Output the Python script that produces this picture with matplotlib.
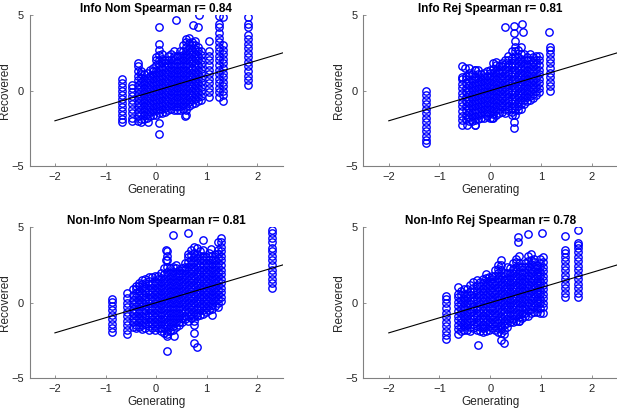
import matplotlib
matplotlib.use("Agg")
from matplotlib import pyplot as plt

plt.rcParams['font.family'] = ['Liberation Sans', 'DejaVu Sans']

# ---- Info Nom: generating value of each column, recovered values in it
info_nom_gen = [-0.68, -0.47, -0.36, -0.30, -0.24, -0.18, -0.12, -0.06, 0.00, 0.05,
                0.11, 0.17, 0.23, 0.29, 0.35, 0.41, 0.47, 0.53, 0.59, 0.65,
                0.71, 0.77, 0.83, 0.89, 1.05, 1.25, 1.32, 1.82]
info_nom_rec = [
    [-2.1, -1.9, -1.6, -1.35, -1.1, -0.8, -0.55, -0.3, 0.0, 0.25, 0.5, 0.8],
    [-2.0, -1.8, -1.5, -1.2, -0.9, -0.6, -0.35, -0.1, 0.15, 0.35],
    [-2.0, -1.7, -1.4, -1.1, -0.8, -0.5, -0.2, 0.1, 0.4, 0.7, 1.0, 1.3, 1.6, 1.8],
    [-2.1, -1.85, -1.55, -1.25, -0.95, -0.65, -0.35, -0.05, 0.25, 0.55, 0.85, 1.1, 1.3],
    [-1.9, -1.6, -1.3, -1.0, -0.7, -0.4, -0.1, 0.2, 0.5, 0.8, 1.1],
    [-1.8, -1.55, -1.25, -0.95, -0.65, -0.35, -0.05, 0.25, 0.55, 0.85, 1.2],
    [-1.7, -1.4, -1.1, -0.8, -0.5, -0.2, 0.1, 0.4, 0.7, 1.0, 1.4],
    [-1.6, -1.35, -1.05, -0.75, -0.45, -0.15, 0.15, 0.45, 0.75, 1.05, 1.3, 1.5],
    [-1.6, -1.3, -1.0, -0.7, -0.4, -0.1, 0.2, 0.5, 0.8, 1.1, 1.4, 1.7, 2.0, 2.2],
    [-1.5, -1.25, -0.95, -0.65, -0.35, -0.05, 0.25, 0.55, 0.85, 1.15, 1.45, 1.75, 2.05, 2.35, 2.7, 3.1],
    [-1.5, -1.2, -0.9, -0.6, -0.3, 0.0, 0.3, 0.6, 0.9, 1.2, 1.5, 1.8, 2.1, 2.4],
    [-1.4, -1.15, -0.85, -0.55, -0.25, 0.05, 0.35, 0.65, 0.95, 1.25, 1.55, 1.8, 2.0],
    [-1.3, -1.0, -0.7, -0.4, -0.1, 0.2, 0.5, 0.8, 1.1, 1.4, 1.7, 2.0, 2.3],
    [-1.2, -0.95, -0.65, -0.35, -0.05, 0.25, 0.55, 0.85, 1.15, 1.45, 1.75, 2.05, 2.4],
    [-1.3, -1.0, -0.7, -0.4, -0.1, 0.2, 0.5, 0.8, 1.1, 1.4, 1.7, 2.0, 2.3, 2.6],
    [-1.3, -1.05, -0.75, -0.45, -0.15, 0.15, 0.45, 0.75, 1.05, 1.35, 1.65, 1.95, 2.3],
    [-1.3, -1.0, -0.7, -0.4, -0.1, 0.2, 0.5, 0.8, 1.1, 1.4, 1.7, 2.0, 2.3, 2.6],
    [-1.2, -0.95, -0.65, -0.35, -0.05, 0.25, 0.55, 0.85, 1.15, 1.45, 1.75, 2.05, 2.35, 2.65, 3.0],
    [-1.6, -1.3, -1.0, -0.7, -0.4, -0.1, 0.2, 0.5, 0.8, 1.1, 1.4, 1.7, 2.0, 2.3, 2.6, 2.9, 3.2, 3.4],
    [-1.0, -0.75, -0.45, -0.15, 0.15, 0.45, 0.75, 1.05, 1.35, 1.65, 1.95, 2.25, 2.55, 2.85, 3.15, 3.5],
    [-0.9, -0.6, -0.3, 0.0, 0.3, 0.6, 0.9, 1.2, 1.5, 1.8, 2.1, 2.4, 2.7, 3.0, 3.2],
    [-0.8, -0.55, -0.25, 0.05, 0.35, 0.65, 0.95, 1.25, 1.55, 1.85, 2.15, 2.45, 2.75, 3.05, 3.3],
    [-0.7, -0.4, -0.1, 0.2, 0.5, 0.8, 1.1, 1.4, 1.7, 2.0, 2.3, 2.6, 2.9],
    [-0.6, -0.35, -0.05, 0.25, 0.55, 0.85, 1.15, 1.45, 1.75, 2.05, 2.35, 2.6],
    [-0.4, -0.1, 0.2, 0.5, 0.8, 1.1, 1.4, 1.7, 2.0, 2.3, 2.6, 3.3],
    [-0.4, -0.1, 0.2, 0.5, 0.8, 1.1, 1.4, 1.7, 2.0, 2.3, 2.6, 2.9, 3.2, 3.5, 3.8, 4.2, 4.4, 4.95],
    [-0.7, -0.3, 0.0, 0.3, 0.6, 0.9, 1.2, 1.5, 1.8, 2.1, 2.4, 2.7, 3.0, 4.9],
    [0.4, 0.7, 1.0, 1.3, 1.6, 1.9, 2.2, 2.5, 2.8, 3.1, 3.4, 3.7, 4.2, 4.4, 4.85],
]
info_nom_out_x = [0.05, 0.05, 0.05, 0.40, 0.72, 0.84, 0.82, -0.17, 0.57]
info_nom_out_y = [4.2, -2.15, -2.9, 4.7, 4.35, 5.0, 4.2, -2.05, -1.65]

# ---- Info Rej
info_rej_gen = [-1.27, -0.55, -0.48, -0.42, -0.36, -0.30, -0.24, -0.18, -0.12, -0.06,
                0.00, 0.06, 0.12, 0.18, 0.24, 0.30, 0.36, 0.42, 0.48, 0.54,
                0.60, 0.66, 0.72, 0.78, 0.84, 0.90, 0.96, 1.17]
info_rej_rec = [
    [0.0, -0.3, -0.6, -0.9, -1.2, -1.5, -1.8, -2.1, -2.4, -2.7, -3.0, -3.3, -3.5],
    [-2.25, -1.95, -1.65, -1.35, -1.05, -0.75, -0.45, -0.15, 0.15, 0.45, 0.75, 0.9, 1.6],
    [-1.9, -1.6, -1.3, -1.0, -0.7, -0.4, -0.1, 0.2, 0.5, 0.8, 1.0],
    [-2.0, -1.75, -1.45, -1.15, -0.85, -0.55, -0.25, 0.05, 0.35, 0.65, 0.95, 1.2, 1.5],
    [-2.0, -1.7, -1.4, -1.1, -0.8, -0.5, -0.2, 0.1, 0.4, 0.7, 1.1],
    [-2.25, -1.95, -1.65, -1.35, -1.05, -0.75, -0.45, -0.15, 0.15, 0.45, 0.75, 1.0, 1.4],
    [-1.9, -1.6, -1.3, -1.0, -0.7, -0.4, -0.1, 0.2, 0.5, 0.8, 1.1, 1.4],
    [-1.8, -1.55, -1.25, -0.95, -0.65, -0.35, -0.05, 0.25, 0.55, 0.85, 1.1],
    [-1.8, -1.5, -1.2, -0.9, -0.6, -0.3, 0.0, 0.3, 0.6, 0.9, 1.2],
    [-1.7, -1.45, -1.15, -0.85, -0.55, -0.25, 0.05, 0.35, 0.65, 0.95, 1.3],
    [-1.8, -1.5, -1.2, -0.9, -0.6, -0.3, 0.0, 0.3, 0.6, 0.9, 1.2, 1.4],
    [-1.8, -1.55, -1.25, -0.95, -0.65, -0.35, -0.05, 0.25, 0.55, 0.85, 1.15, 1.45, 1.8],
    [-1.6, -1.3, -1.0, -0.7, -0.4, -0.1, 0.2, 0.5, 0.8, 1.1, 1.4, 1.7, 1.9],
    [-1.5, -1.25, -0.95, -0.65, -0.35, -0.05, 0.25, 0.55, 0.85, 1.15, 1.4, 1.6],
    [-1.4, -1.1, -0.8, -0.5, -0.2, 0.1, 0.4, 0.7, 1.0, 1.3, 1.6, 1.8],
    [-1.5, -1.25, -0.95, -0.65, -0.35, -0.05, 0.25, 0.55, 0.85, 1.15, 1.45, 1.75, 2.0],
    [-1.3, -1.0, -0.7, -0.4, -0.1, 0.2, 0.5, 0.8, 1.1, 1.4, 1.7, 2.0, 2.3],
    [-1.6, -1.4, -1.15, -0.85, -0.55, -0.25, 0.05, 0.35, 0.65, 0.95, 1.25, 1.55, 1.85, 2.15, 2.6],
    [-1.6, -1.3, -1.0, -0.7, -0.4, -0.1, 0.2, 0.5, 0.8, 1.1, 1.4, 1.7, 2.0, 2.3, 2.6, 2.9, 3.3],
    [-1.3, -1.05, -0.75, -0.45, -0.15, 0.15, 0.45, 0.75, 1.05, 1.35, 1.65, 1.95, 2.25, 2.7],
    [-1.2, -0.9, -0.6, -0.3, 0.0, 0.3, 0.6, 0.9, 1.2, 1.5, 1.8, 2.1, 2.4, 2.9],
    [-0.9, -0.65, -0.35, -0.05, 0.25, 0.55, 0.85, 1.15, 1.45, 1.75, 2.05, 2.4],
    [-0.7, -0.4, -0.1, 0.2, 0.5, 0.8, 1.1, 1.4, 1.7, 2.0, 2.2],
    [-0.6, -0.35, -0.05, 0.25, 0.55, 0.85, 1.15, 1.45, 1.75, 2.05, 2.4],
    [-0.5, -0.2, 0.1, 0.4, 0.7, 1.0, 1.3, 1.6, 1.9, 2.2],
    [-0.3, -0.05, 0.25, 0.55, 0.85, 1.15, 1.45, 1.75, 2.05, 2.3],
    [-0.1, 0.2, 0.5, 0.8, 1.1, 1.4, 1.7, 2.0, 2.3],
    [0.0, 0.3, 0.6, 0.9, 1.2, 1.5, 1.8, 2.1, 2.4, 2.7, 2.9],
]
info_rej_out_x = [0.29, 0.46, 0.46, 0.63, 0.65, 1.15, -0.50, -0.30, 0.03, -0.45, -0.30, 0.46, 0.46]
info_rej_out_y = [4.2, 4.3, 3.8, 4.4, 3.9, 3.9, 1.5, 1.4, -1.8, -2.3, -2.3, -2.05, -2.45]

# ---- Non-Info Nom
noninfo_nom_gen = [-0.88, -0.57, -0.45, -0.39, -0.33, -0.27, -0.21, -0.15, -0.09, -0.03,
                   0.03, 0.09, 0.15, 0.21, 0.27, 0.33, 0.39, 0.45, 0.51, 0.57,
                   0.63, 0.69, 0.75, 0.81, 0.87, 0.93, 0.99, 1.05, 1.11, 1.17,
                   1.23, 1.29, 2.30]
noninfo_nom_rec = [
    [-1.95, -1.7, -1.4, -1.1, -0.8, -0.5, -0.2, 0.05, 0.25],
    [-2.1, -1.8, -1.5, -1.2, -0.9, -0.6, -0.3, 0.0, 0.3, 0.65],
    [-1.6, -1.3, -1.0, -0.7, -0.4, -0.1, 0.2, 0.5, 0.9],
    [-1.7, -1.45, -1.15, -0.85, -0.55, -0.25, 0.05, 0.35, 0.65, 0.9, 1.1],
    [-1.6, -1.3, -1.0, -0.7, -0.4, -0.1, 0.2, 0.5, 0.8, 1.1, 1.3],
    [-1.75, -1.45, -1.15, -0.85, -0.55, -0.25, 0.05, 0.35, 0.65, 0.95, 1.25, 1.5],
    [-1.7, -1.4, -1.1, -0.8, -0.5, -0.2, 0.1, 0.4, 0.7, 1.0, 1.3, 1.6],
    [-1.8, -1.55, -1.25, -0.95, -0.65, -0.35, -0.05, 0.25, 0.55, 0.85, 1.15, 1.45, 1.7],
    [-1.7, -1.4, -1.1, -0.8, -0.5, -0.2, 0.1, 0.4, 0.7, 1.0, 1.3, 1.7],
    [-1.8, -1.55, -1.25, -0.95, -0.65, -0.35, -0.05, 0.25, 0.55, 0.85, 1.15, 1.45, 1.8],
    [-1.7, -1.4, -1.1, -0.8, -0.5, -0.2, 0.1, 0.4, 0.7, 1.0, 1.3, 1.6, 1.8],
    [-1.9, -1.65, -1.35, -1.05, -0.75, -0.45, -0.15, 0.15, 0.45, 0.75, 1.05, 1.35, 1.65, 2.0],
    [-2.0, -1.7, -1.4, -1.1, -0.8, -0.5, -0.2, 0.1, 0.4, 0.7, 1.0, 1.3, 1.6, 1.9, 2.3],
    [-2.1, -1.85, -1.55, -1.25, -0.95, -0.65, -0.35, -0.05, 0.25, 0.55, 0.85, 1.15, 1.45, 1.75, 2.05, 2.4, 2.8, 3.1, 3.4],
    [-1.9, -1.6, -1.3, -1.0, -0.7, -0.4, -0.1, 0.2, 0.5, 0.8, 1.1, 1.4, 1.7, 2.0, 2.3],
    [-1.8, -1.55, -1.25, -0.95, -0.65, -0.35, -0.05, 0.25, 0.55, 0.85, 1.15, 1.45, 1.75, 2.05, 2.4],
    [-1.6, -1.3, -1.0, -0.7, -0.4, -0.1, 0.2, 0.5, 0.8, 1.1, 1.4, 1.7, 2.0, 2.3, 2.5],
    [-1.5, -1.25, -0.95, -0.65, -0.35, -0.05, 0.25, 0.55, 0.85, 1.15, 1.45, 1.75, 2.0, 2.2],
    [-1.3, -1.0, -0.7, -0.4, -0.1, 0.2, 0.5, 0.8, 1.1, 1.4, 1.7, 2.0, 2.3],
    [-1.1, -0.85, -0.55, -0.25, 0.05, 0.35, 0.65, 0.95, 1.25, 1.55, 1.85, 2.15, 2.4, 2.6],
    [-1.2, -0.9, -0.6, -0.3, 0.0, 0.3, 0.6, 0.9, 1.2, 1.5, 1.8, 2.1, 2.4, 2.7, 3.0, 3.2],
    [-1.0, -0.75, -0.45, -0.15, 0.15, 0.45, 0.75, 1.05, 1.35, 1.65, 1.95, 2.25, 2.55, 2.85, 3.15, 3.5],
    [-1.2, -0.9, -0.6, -0.3, 0.0, 0.3, 0.6, 0.9, 1.2, 1.5, 1.8, 2.1, 2.4, 2.7, 3.0, 3.3, 3.7],
    [-0.9, -0.65, -0.35, -0.05, 0.25, 0.55, 0.85, 1.15, 1.45, 1.75, 2.05, 2.35, 2.65, 2.95, 3.25, 3.6],
    [-0.8, -0.5, -0.2, 0.1, 0.4, 0.7, 1.0, 1.3, 1.6, 1.9, 2.2, 2.5, 2.8, 3.1, 3.4],
    [-0.75, -0.5, -0.2, 0.1, 0.4, 0.7, 1.0, 1.3, 1.6, 1.9, 2.2, 2.5, 2.8, 3.1, 3.5],
    [-0.6, -0.35, -0.05, 0.25, 0.55, 0.85, 1.15, 1.45, 1.75, 2.05, 2.35, 2.65, 3.0],
    [-0.5, -0.2, 0.1, 0.4, 0.7, 1.0, 1.3, 1.6, 1.9, 2.2, 2.5, 2.8, 3.1, 3.3],
    [-0.4, -0.15, 0.15, 0.45, 0.75, 1.05, 1.35, 1.65, 1.95, 2.25, 2.55, 2.85, 3.1],
    [-0.2, 0.1, 0.4, 0.7, 1.0, 1.3, 1.6, 1.9, 2.2, 2.5, 2.8, 3.2],
    [-0.3, -0.05, 0.25, 0.55, 0.85, 1.15, 1.45, 1.75, 2.05, 2.35, 2.65, 2.95, 3.25, 3.5],
    [0.1, 0.4, 0.7, 1.0, 1.3, 1.6, 1.9, 2.2, 2.5, 2.8, 3.1, 3.4, 3.7, 4.0, 4.3],
    [1.0, 1.3, 1.6, 1.9, 2.2, 2.5, 2.8, 3.1, 3.4, 3.6, 4.0, 4.3, 4.6, 4.85],
]
noninfo_nom_out_x = [0.20, 0.20, 0.22, 0.22, 0.33, 0.35, 0.63, 0.75, 0.75, 0.75, 0.80, 0.93, 1.08, 1.10, 1.23]
noninfo_nom_out_y = [2.8, 3.5, -2.2, -3.2, 4.5, -2.2, 4.65, -1.5, -2.0, -2.65, -2.95, 4.15, 3.55, -0.8, 4.0]

# ---- Non-Info Rej
noninfo_rej_gen = [-0.88, -0.63, -0.57, -0.51, -0.45, -0.39, -0.33, -0.27, -0.21, -0.15,
                   -0.09, -0.03, 0.03, 0.09, 0.15, 0.21, 0.27, 0.33, 0.39, 0.45,
                   0.51, 0.57, 0.63, 0.69, 0.75, 0.81, 0.87, 0.93, 0.99, 1.05,
                   1.47, 1.73]
noninfo_rej_rec = [
    [-2.4, -2.15, -1.85, -1.55, -1.25, -0.95, -0.65, -0.35, -0.05, 0.25, 0.45],
    [-2.05, -1.75, -1.45, -1.15, -0.85, -0.55, -0.25, 0.05, 0.35, 0.6, 1.05],
    [-1.9, -1.6, -1.3, -1.0, -0.7, -0.4, -0.1, 0.2, 0.5, 0.8],
    [-1.8, -1.55, -1.25, -0.95, -0.65, -0.35, -0.05, 0.25, 0.55, 0.9],
    [-1.8, -1.5, -1.2, -0.9, -0.6, -0.3, 0.0, 0.3, 0.6, 0.9],
    [-1.85, -1.6, -1.3, -1.0, -0.7, -0.4, -0.1, 0.2, 0.5, 0.8, 1.2],
    [-1.7, -1.4, -1.1, -0.8, -0.5, -0.2, 0.1, 0.4, 0.7, 1.0, 1.4],
    [-1.8, -1.55, -1.25, -0.95, -0.65, -0.35, -0.05, 0.25, 0.55, 0.85, 1.15, 1.5],
    [-1.9, -1.6, -1.3, -1.0, -0.7, -0.4, -0.1, 0.2, 0.5, 0.8, 1.1, 1.4],
    [-1.95, -1.7, -1.4, -1.1, -0.8, -0.5, -0.2, 0.1, 0.4, 0.7, 1.0, 1.3, 1.6],
    [-1.9, -1.6, -1.3, -1.0, -0.7, -0.4, -0.1, 0.2, 0.5, 0.8, 1.1, 1.4, 1.65, 1.9],
    [-1.8, -1.55, -1.25, -0.95, -0.65, -0.35, -0.05, 0.25, 0.55, 0.85, 1.15, 1.45, 1.7],
    [-1.7, -1.4, -1.1, -0.8, -0.5, -0.2, 0.1, 0.4, 0.7, 1.0, 1.3, 1.6, 1.8],
    [-1.8, -1.55, -1.25, -0.95, -0.65, -0.35, -0.05, 0.25, 0.55, 0.85, 1.15, 1.45, 1.75, 2.2],
    [-1.95, -1.65, -1.35, -1.05, -0.75, -0.45, -0.15, 0.15, 0.45, 0.75, 1.05, 1.35, 1.65, 1.95, 2.25, 2.5],
    [-2.0, -1.75, -1.45, -1.15, -0.85, -0.55, -0.25, 0.05, 0.35, 0.65, 0.95, 1.25, 1.55, 1.85, 2.15, 2.5, 2.8],
    [-2.1, -1.8, -1.5, -1.2, -0.9, -0.6, -0.3, 0.0, 0.3, 0.6, 0.9, 1.2, 1.5, 1.8, 2.0],
    [-1.6, -1.35, -1.05, -0.75, -0.45, -0.15, 0.15, 0.45, 0.75, 1.05, 1.35, 1.65, 1.95, 2.4],
    [-1.3, -1.0, -0.7, -0.4, -0.1, 0.2, 0.5, 0.8, 1.1, 1.4, 1.7, 2.0, 2.3],
    [-1.3, -1.05, -0.75, -0.45, -0.15, 0.15, 0.45, 0.75, 1.05, 1.35, 1.65, 1.95, 2.25, 2.6],
    [-1.2, -0.9, -0.6, -0.3, 0.0, 0.3, 0.6, 0.9, 1.2, 1.5, 1.8, 2.1, 2.4, 2.7, 2.9],
    [-1.2, -0.95, -0.65, -0.35, -0.05, 0.25, 0.55, 0.85, 1.15, 1.45, 1.75, 2.05, 2.35, 2.65, 3.1],
    [-1.0, -0.7, -0.4, -0.1, 0.2, 0.5, 0.8, 1.1, 1.4, 1.7, 2.0, 2.4],
    [-0.9, -0.65, -0.35, -0.05, 0.25, 0.55, 0.85, 1.15, 1.45, 1.75, 2.05, 2.35, 2.6],
    [-0.85, -0.55, -0.25, 0.05, 0.35, 0.65, 0.95, 1.25, 1.55, 1.85, 2.15, 2.45, 2.75, 3.1],
    [-0.7, -0.45, -0.15, 0.15, 0.45, 0.75, 1.05, 1.35, 1.65, 1.95, 2.25, 2.55, 2.85, 3.2],
    [-0.6, -0.3, 0.0, 0.3, 0.6, 0.9, 1.2, 1.5, 1.8, 2.1, 2.4, 2.7, 2.9],
    [-0.6, -0.35, -0.05, 0.25, 0.55, 0.85, 1.15, 1.45, 1.75, 2.05, 2.3, 2.5],
    [-0.65, -0.35, -0.05, 0.25, 0.55, 0.85, 1.15, 1.45, 1.75, 2.05, 2.35, 2.65, 2.9],
    [-0.3, 0.0, 0.3, 0.6, 0.9, 1.2, 1.5, 1.8, 2.1, 2.4, 2.7, 3.0],
    [0.35, 0.65, 0.95, 1.25, 1.55, 1.85, 2.15, 2.45, 2.75, 3.05, 3.3, 3.5, 4.45],
    [0.35, 0.65, 0.95, 1.25, 1.55, 1.85, 2.15, 2.45, 2.75, 3.05, 3.35, 3.6, 3.8, 3.95, 4.85],
]
noninfo_rej_out_x = [-0.25, 0.22, 0.27, 0.55, 0.55, 0.57, 0.75, 1.02, 1.05]
noninfo_rej_out_y = [-2.8, -2.5, -2.65, 4.35, 4.0, -1.2, 4.55, 4.6, -0.65]

titles = ['Info Nom Spearman r= 0.84', 'Info Rej Spearman r= 0.81',
          'Non-Info Nom Spearman r= 0.81', 'Non-Info Rej Spearman r= 0.78']
ident_x = [-2, 2.5]

panels = [
    (info_nom_gen, info_nom_rec, info_nom_out_x, info_nom_out_y),
    (info_rej_gen, info_rej_rec, info_rej_out_x, info_rej_out_y),
    (noninfo_nom_gen, noninfo_nom_rec, noninfo_nom_out_x, noninfo_nom_out_y),
    (noninfo_rej_gen, noninfo_rej_rec, noninfo_rej_out_x, noninfo_rej_out_y),
]

# axes boxes in figure fractions (left, bottom, width, height)
boxes = [
    [0.048, 0.596, 0.410, 0.367],
    [0.589, 0.596, 0.411, 0.367],
    [0.048, 0.080, 0.410, 0.367],
    [0.589, 0.080, 0.411, 0.367],
]

fig = plt.figure(figsize=(6.17, 4.11), dpi=100)
grey = '#808080'
txt = '#262626'

for (gen, rec, ox, oy), title, box in zip(panels, titles, boxes):
    ax = fig.add_axes(box)
    xs = []
    ys = []
    for g, col in zip(gen, rec):
        xs += [g] * len(col)
        ys += col
    xs += ox
    ys += oy
    ax.plot(xs, ys, 'o', markerfacecolor='none', markeredgecolor='#0000ff',
            markersize=5.3, markeredgewidth=1.0)
    ax.plot(ident_x, ident_x, '-', color='k', linewidth=0.8)
    ax.set_xlim(-2.5, 2.5)
    ax.set_ylim(-5, 5)
    ax.set_xticks([-2, -1, 0, 1, 2])
    ax.set_yticks([-5, 0, 5])
    for s in ['top', 'right']:
        ax.spines[s].set_visible(False)
    for s in ['left', 'bottom']:
        ax.spines[s].set_color(grey)
        ax.spines[s].set_linewidth(0.8)
    ax.tick_params(direction='in', length=2, width=0.6, color=grey,
                   labelsize=8, labelcolor=txt, pad=4)
    ax.set_xlabel('Generating', fontsize=8.5, color=txt, labelpad=2)
    ax.set_ylabel('Recovered', fontsize=8.5, color=txt, labelpad=0)
    ax.set_title(title, fontsize=8.5, fontweight='bold', color='k', pad=2)

fig.savefig('out.png', dpi=100)
